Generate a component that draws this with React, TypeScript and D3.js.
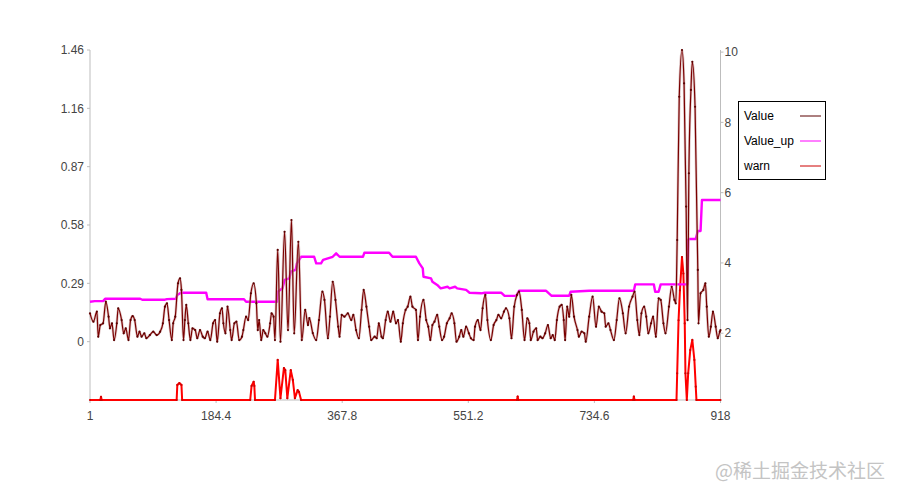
import React from 'react';
import * as d3 from 'd3';

const W = 900;
const H = 500;

const xTicks = [1, 184.4, 367.8, 551.2, 734.6, 918];
const leftTicks = [0, 0.292, 0.584, 0.876, 1.168, 1.46];
const leftTickLabels = ['0', '0.29', '0.58', '0.87', '1.16', '1.46'];
const rightTicks = [2, 4, 6, 8, 10];
const legendNames = ['Value', 'Value_up', 'warn'];

// [index, value] on the left axis
const valueSeries: [number, number][] = [
  [1,0.142],[6,0.100],[11,0.150],[13,0.025],[16,0.083],[20,0.092],[24,0.200],[28,0.125],[30,0.067],[33,0.092],[36,0.008],[40,0.092],[42,0.167],[47,0.108],[50,0.042],[53,0.067],[57,0.008],[60,0.108],[63,0.128],[66,0.108],[70,0.025],[73,0.050],[76,0.025],[80,0.042],[83,0.017],[88,0.033],[93,0.050],[98,0.033],[103,0.050],[107,0.092],[110,0.175],[113,0.192],[116,0.108],[120,0.008],[122,0.092],[125,0.125],[129,0.292],[132,0.317],[134,0.259],[137,0.008],[139,0.108],[141,0.184],[144,0.092],[147,0.008],[150,0.067],[154,0.058],[157,0.017],[161,0.058],[165,0.025],[168,0.017],[172,0.050],[176,0.008],[180,0.092],[183,0.108],[186,0.000],[190,0.142],[193,0.167],[195,0.092],[198,0.042],[201,0.175],[205,0.058],[207,0.008],[211,0.092],[214,0.100],[218,0.008],[222,0.025],[224,0.058],[228,0.125],[231,0.108],[235,0.242],[239,0.292],[243,0.192],[245,0.058],[247,0.108],[250,0.008],[253,0.058],[256,0.042],[259,0.025],[263,0.092],[265,0.142],[268,0.125],[270,0.008],[274,0.459],[278,0.000],[284,0.550],[289,0.058],[294,0.609],[298,0.042],[304,0.500],[309,0.008],[314,0.159],[318,0.083],[320,0.118],[325,0.043],[330,0.008],[334,0.108],[339,0.250],[342,0.209],[347,0.017],[350,0.125],[354,0.300],[358,0.209],[362,0.075],[364,0.025],[367,0.134],[371,0.125],[376,0.142],[381,0.108],[384,0.134],[388,0.058],[392,0.017],[396,0.159],[399,0.259],[403,0.175],[407,0.075],[410,0.008],[415,0.025],[418,0.017],[421,0.092],[425,0.025],[427,0.017],[431,0.108],[434,0.150],[438,0.100],[442,0.150],[446,0.092],[449,0.108],[453,0.000],[456,0.092],[460,0.159],[463,0.175],[467,0.225],[470,0.175],[475,0.159],[478,0.008],[481,0.125],[486,0.209],[490,0.108],[493,0.075],[496,0.008],[499,0.083],[502,0.100],[506,0.134],[509,0.075],[513,0.008],[516,0.025],[520,0.092],[524,0.117],[527,0.142],[531,0.092],[534,0.000],[538,0.025],[541,0.058],[544,0.025],[548,0.075],[552,0.042],[555,0.017],[559,0.008],[561,0.075],[565,0.108],[569,0.058],[572,0.167],[576,0.234],[579,0.108],[584,0.008],[588,0.083],[592,0.108],[595,0.134],[599,0.117],[603,0.150],[606,0.167],[611,0.117],[614,0.017],[618,0.175],[622,0.234],[625,0.250],[629,0.159],[633,0.008],[637,0.117],[640,0.092],[642,0.008],[646,0.050],[650,0.067],[652,0.008],[656,0.025],[659,0.017],[663,0.042],[667,0.083],[671,0.017],[674,0.033],[677,0.008],[680,0.108],[684,0.175],[687,0.184],[690,0.108],[692,0.008],[695,0.175],[698,0.125],[701,0.234],[705,0.125],[710,0.058],[712,0.025],[716,0.050],[720,0.042],[722,0.000],[727,0.125],[732,0.225],[737,0.075],[741,0.175],[745,0.150],[749,0.142],[751,0.075],[755,0.092],[758,0.058],[763,0.008],[767,0.108],[771,0.217],[776,0.142],[780,0.042],[785,0.175],[790,0.225],[793,0.250],[797,0.108],[800,0.033],[803,0.142],[807,0.175],[810,0.125],[813,0.042],[817,0.092],[820,0.125],[824,0.025],[828,0.217],[831,0.209],[835,0.092],[838,0.042],[843,0.175],[847,0.275],[851,0.209],[853,0.192],[855,0.509],[858,1.226],[862,1.460],[865,1.293],[868,0.676],[870,0.108],[872,0.843],[875,1.260],[877,1.401],[881,1.176],[885,0.359],[886,0.092],[889,0.242],[893,0.259],[896,0.292],[898,0.175],[901,0.025],[904,0.075],[907,0.150],[911,0.075],[914,0.017],[917,0.050],[918,0.058]
];

// [index, value] on the left axis
const valueUpSeries: [number, number][] = [
  [1,0.200],[8,0.203],[20,0.203],[23,0.215],[74,0.215],[77,0.210],[110,0.210],[113,0.213],[126,0.215],[128,0.234],[131,0.240],[133,0.245],[170,0.245],[172,0.212],[225,0.212],[228,0.200],[273,0.200],[274,0.250],[281,0.267],[284,0.309],[291,0.317],[293,0.350],[300,0.359],[302,0.392],[308,0.425],[327,0.425],[330,0.392],[337,0.392],[340,0.409],[354,0.425],[359,0.442],[364,0.425],[398,0.425],[400,0.445],[436,0.445],[441,0.425],[475,0.425],[480,0.392],[485,0.367],[486,0.325],[497,0.317],[499,0.300],[506,0.284],[511,0.267],[521,0.275],[524,0.267],[532,0.275],[535,0.267],[548,0.259],[553,0.245],[570,0.242],[575,0.245],[599,0.245],[604,0.229],[621,0.229],[625,0.255],[664,0.255],[672,0.230],[698,0.230],[700,0.250],[727,0.255],[792,0.255],[794,0.287],[821,0.287],[823,0.250],[828,0.250],[831,0.287],[870,0.287],[871,0.509],[872,0.514],[882,0.514],[885,0.554],[889,0.554],[891,0.709],[918,0.709]
];

// [index, value] on the right axis
const warnSeries: [number, number][] = [
  [1,0.1],[16,0.1],[17,0.19],[18,0.1],[127,0.1],[128,0.53],[131,0.58],[134,0.53],[135,0.1],[234,0.1],[236,0.5],[239,0.62],[240,0.5],[241,0.1],[270,0.1],[274,1.24],[278,0.15],[283,1.01],[285,0.95],[288,0.15],[293,0.95],[296,0.67],[299,0.15],[303,0.38],[305,0.33],[308,0.1],[622,0.1],[623,0.2],[624,0.1],[791,0.1],[792,0.2],[793,0.1],[854,0.1],[855,0.86],[857,2.37],[859,3.22],[862,4.17],[864,3.70],[866,2.28],[867,0.86],[869,0.1],[871,0.86],[874,1.52],[877,1.81],[880,1.24],[882,0.48],[883,0.1],[918,0.1]
];

const FONT = '"Liberation Sans", Arial, sans-serif';
const AXIS = '#bdbdbd';
const TXT = '#444';

export default function App() {
  const left = 90, right = 720.5, top = 50, bottom = 400;
  const x = d3.scaleLinear().domain([1, 918]).range([left, right]);
  const yL = d3.scaleLinear().domain([-0.292, 1.46]).range([bottom, top]);
  const yR = d3.scaleLinear().domain([0.1, 10.06]).range([bottom, top]);

  const lineL = d3.line<[number, number]>().x(d => x(d[0])).y(d => yL(d[1]));
  const lineSmooth = d3.line<[number, number]>().x(d => x(d[0])).y(d => yL(d[1])).curve(d3.curveMonotoneX);
  const lineR = d3.line<[number, number]>().x(d => x(d[0])).y(d => yR(d[1]));

  const legendColors = ['#5a0000', '#ff00ff', '#cc0000'];

  return (
    <svg width={W} height={H} style={{ position: 'absolute', left: 0, top: 0, background: '#fff' }}
      fontFamily={FONT}>
      {/* axes */}
      <line x1={left} x2={left} y1={top} y2={bottom} stroke={AXIS} />
      <line x1={right} x2={right} y1={top} y2={bottom} stroke={AXIS} />
      <line x1={left} x2={right} y1={bottom} y2={bottom} stroke={AXIS} />
      {leftTicks.map((t, i) => (
        <g key={'l' + i}>
          <line x1={left - 3} x2={left} y1={yL(t)} y2={yL(t)} stroke={AXIS} />
          <text x={left - 6} y={yL(t)} dy="0.35em" textAnchor="end" fontSize={12} fill={TXT}>{leftTickLabels[i]}</text>
        </g>
      ))}
      {rightTicks.map((t, i) => (
        <g key={'r' + i}>
          <line x1={right} x2={right + 3} y1={yR(t)} y2={yR(t)} stroke={AXIS} />
          <text x={right + 4} y={yR(t)} dy="0.35em" textAnchor="start" fontSize={12} fill={TXT}>{t}</text>
        </g>
      ))}
      {xTicks.map((t, i) => (
        <g key={'x' + i}>
          <line x1={x(t)} x2={x(t)} y1={bottom} y2={bottom + 3} stroke={AXIS} />
          <text x={x(t)} y={bottom + 16} dy="0.35em" textAnchor="middle" fontSize={12} fill={TXT}>{t}</text>
        </g>
      ))}

      {/* warn */}
      <path d={lineR(warnSeries) || ''} fill="none" stroke="#ff0000" strokeWidth={2} strokeLinejoin="round" />
      {warnSeries.map((d, i) => (
        <circle key={'w' + i} cx={x(d[0])} cy={yR(d[1])} r={1.1} fill="#d00000" />
      ))}

      {/* Value_up */}
      <path d={lineL(valueUpSeries) || ''} fill="none" stroke="#ff00ff" strokeWidth={2.4} strokeLinejoin="round" />

      {/* Value */}
      <path d={lineSmooth(valueSeries) || ''} fill="none" stroke="#c9a0a0" strokeWidth={2.6} strokeOpacity={0.6} strokeLinejoin="round" />
      <path d={lineSmooth(valueSeries) || ''} fill="none" stroke="#7a0000" strokeWidth={1.2} strokeLinejoin="round" />
      {valueSeries.map((d, i) => (
        <circle key={'v' + i} cx={x(d[0])} cy={yL(d[1])} r={1.1} fill="#5a0000" />
      ))}

      {/* legend */}
      <rect x={738.5} y={101.5} width={87} height={78} fill="#fff" stroke="#000" />
      {legendNames.map((n, i) => (
        <g key={'lg' + i}>
          <text x={744} y={116 + i * 25} dy="0.35em" fontSize={12} fill="#000">{n}</text>
          <line x1={800} x2={821} y1={116 + i * 25} y2={116 + i * 25} stroke={legendColors[i]} strokeWidth={1} />
        </g>
      ))}

      {/* watermark */}
      <text x={885} y={478} textAnchor="end" fontSize={19} fill="#c4c4c4"
        fontFamily='"Noto Sans CJK SC", sans-serif'>@稀土掘金技术社区</text>
    </svg>
  );
}
